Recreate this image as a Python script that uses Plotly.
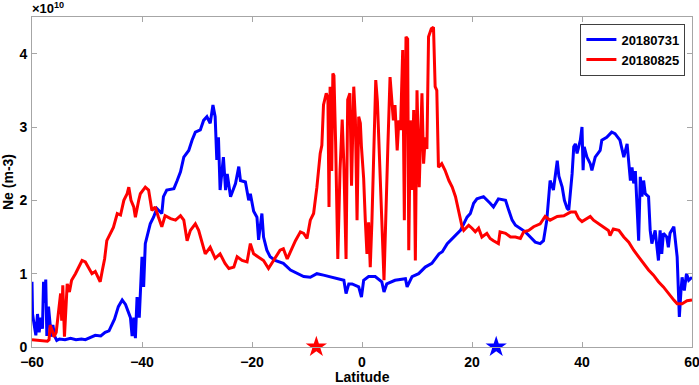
import plotly.graph_objects as go

# Ne in units of 1e10 m-3
lat_0731 = [-60.0, -59.9, -59.6, -59.3, -59.0, -58.7, -58.4, -58.1, -57.9, -57.7, -57.5, -57.3,
            -57.0, -56.8, -56.5, -56.2, -55.9, -55.5, -55.0, -54.0, -53.0, -52.0, -51.0, -50.3,
            -49.5, -48.5, -47.5, -46.7, -46.0, -45.5, -45.0, -44.3, -43.6, -43.0, -42.6, -42.1,
            -41.8, -41.5, -41.2, -40.9, -40.5, -40.0, -39.7, -39.4, -38.8, -38.5, -37.9, -37.3,
            -36.4, -36.1, -35.5, -34.2, -33.6, -33.0, -32.4, -31.5, -30.9, -30.3, -29.4, -28.8,
            -28.2, -27.6, -27.1, -26.7, -26.4, -26.1, -25.8, -25.2, -24.8, -24.5, -23.9, -23.0,
            -22.4, -22.1, -21.2, -20.6, -20.3, -19.7, -19.1, -18.8, -18.2, -17.9, -17.3, -16.7,
            -15.8, -14.3, -13.0, -11.8, -10.6, -9.4, -8.2, -7.0, -5.8, -4.5, -3.3, -2.9, -2.4,
            -1.8, -0.6, -0.1, 0.3, 1.2, 2.4, 3.6, 4.0, 4.5, 6.0, 7.9, 8.2, 9.1, 10.3, 11.5,
            12.7, 14.0, 14.6, 15.5, 16.7, 17.9, 18.5, 19.1, 19.7, 20.3, 20.9, 22.1, 23.3, 23.9,
            24.8, 26.1, 26.7, 27.3, 27.9, 28.8, 29.7, 30.6, 31.5, 32.4, 33.0, 33.6, 33.9, 34.2,
            34.8, 35.5, 35.8, 36.4, 36.8, 37.3, 37.6, 38.2, 38.5, 38.8, 39.1, 39.4, 39.7, 40.0,
            40.2, 40.4, 40.9, 41.5, 41.8, 42.4, 43.3, 43.6, 44.5, 45.4, 46.0, 46.9, 47.6, 48.2,
            48.8, 49.1, 49.4, 49.7, 50.0, 50.3, 50.6, 50.9, 51.2, 51.5, 52.1, 52.4, 52.7, 53.3,
            53.9, 54.2, 54.5, 54.8, 55.4, 55.7, 56.0, 56.7, 57.3, 57.6, 57.7, 58.0, 58.2, 58.6,
            59.0, 59.4, 60.0]
ne_0731 = [0.89, 0.45, 0.30, 0.16, 0.45, 0.20, 0.40, 0.25, 0.89, 0.60, 0.92, 0.15,
           0.55, 0.35, 0.14, 0.30, 0.15, 0.09, 0.11, 0.10, 0.12, 0.10, 0.11, 0.10,
           0.13, 0.16, 0.15, 0.20, 0.22, 0.30, 0.38, 0.55, 0.64, 0.58, 0.50, 0.40,
           0.15, 0.40, 0.12, 0.68, 0.40, 1.23, 0.82, 1.41, 1.59, 1.68, 1.77, 1.89,
           1.82, 2.05, 2.14, 2.16, 2.27, 2.39, 2.59, 2.68, 2.82, 2.93, 2.96, 3.09,
           3.14, 3.05, 3.30, 3.14, 2.55, 2.86, 2.14, 2.59, 2.14, 2.36, 2.05, 2.23,
           2.46, 2.27, 2.25, 2.00, 2.09, 1.85, 1.77, 1.46, 1.82, 1.50, 1.32, 1.23,
           1.18, 1.14, 1.05, 1.00, 0.96, 0.95, 1.00, 0.98, 0.96, 0.93, 0.91, 0.73, 0.86,
           0.86, 0.82, 0.68, 0.91, 0.96, 0.96, 0.89, 0.75, 0.86, 0.91, 0.93, 0.82, 0.96, 1.00, 1.09,
           1.14, 1.27, 1.30, 1.41, 1.50, 1.59, 1.68, 1.77, 1.82, 1.96, 2.02, 2.05, 1.96, 1.91,
           2.02, 2.00, 1.86, 1.73, 1.66, 1.61, 1.57, 1.50, 1.43, 1.41, 1.45, 1.73, 2.00, 2.27,
           2.14, 2.54, 2.33, 2.18, 2.00, 1.89, 1.87, 2.36, 2.73, 2.77, 2.64, 2.73, 2.82, 3.00,
           2.41, 2.73, 2.59, 2.50, 2.41, 2.59, 2.68, 2.82, 2.86, 2.93, 2.91, 2.82, 2.59, 2.77,
           2.27, 2.45, 2.23, 2.40, 1.99, 1.45, 2.32, 2.05, 2.27, 2.09, 2.05, 1.59, 1.41, 1.59,
           1.18, 1.59, 1.27, 1.55, 1.50, 1.36, 1.55, 1.64, 1.23, 0.77, 0.41, 0.77, 0.95, 0.77,
           1.00, 0.91, 0.95]

lat_0825 = [-60.0, -59.0, -58.0, -57.2, -56.9, -56.7, -56.3, -56.0, -55.6, -55.2, -54.8, -54.6,
            -54.4, -54.1, -53.8, -53.6, -53.2, -52.8, -52.1, -51.5, -50.9, -50.3, -49.8, -49.1,
            -48.5, -47.6, -47.2, -46.8, -46.4, -45.8, -45.2, -44.5, -43.9, -43.3, -42.7, -42.4,
            -42.0, -41.5, -41.2, -40.6, -40.3, -39.4, -38.8, -38.2, -37.6, -37.0, -36.4, -35.8,
            -34.8, -33.9, -33.0, -32.4, -31.8, -31.2, -30.3, -29.7, -29.1, -28.5, -27.6, -26.7,
            -25.8, -24.9, -24.2, -23.3, -22.7, -21.8, -20.9, -20.3, -19.7, -18.8, -17.9, -17.0,
            -16.1, -14.9, -14.3, -13.6, -13.0, -12.1, -11.2, -10.6, -10.0, -9.4, -8.8, -8.2,
            -7.6, -7.3, -7.0, -6.5, -6.2, -6.0, -5.8, -5.5, -5.3, -5.1, -4.8, -4.4, -4.0,
            -3.6, -3.3, -2.9, -2.6, -2.2, -1.9, -1.5, -1.2, -0.9, -0.6, -0.3, -0.1, 0.3, 0.6,
            0.9, 1.2, 1.5, 1.8, 2.1, 2.5, 2.8, 3.1, 3.6, 4.0, 4.4, 4.7, 5.1, 5.4, 5.7, 6.0,
            6.4, 6.7, 7.0, 7.2, 7.4, 7.7, 8.0, 8.3, 8.5, 8.8, 9.1, 9.4, 9.7, 10.0, 10.4, 10.9,
            11.2, 11.5, 11.8, 12.1, 12.6, 13.0, 13.3, 13.6, 13.9, 14.5, 15.1, 15.8, 16.4, 17.0,
            17.6, 18.2, 18.5, 19.4, 20.0, 20.6, 21.2, 21.8, 22.7, 23.3, 23.9, 24.8, 25.1, 26.1,
            27.0, 27.9, 28.8, 29.4, 30.3, 31.2, 32.4, 33.3, 34.2, 35.5, 36.7, 37.3, 37.9, 38.8,
            39.4, 40.0, 40.9, 41.5, 42.1, 43.0, 43.9, 44.8, 45.1, 45.7, 46.7, 47.6, 48.5, 49.4,
            50.3, 51.2, 52.1, 53.0, 53.9, 54.8, 55.7, 56.7, 57.3, 58.2, 59.1, 60.0]
ne_0825 = [0.10, 0.09, 0.08, 0.08, 0.10, 0.30, 0.22, 0.14, 0.20, 0.50, 0.73, 0.36,
           0.84, 0.14, 0.60, 0.86, 0.75, 0.91, 1.00, 1.09, 1.18, 1.16, 1.10, 1.00,
           1.03, 0.89, 1.05, 1.20, 1.45, 1.55, 1.63, 1.82, 1.80, 2.00, 2.09, 2.18,
           2.00, 1.91, 1.77, 2.00, 2.09, 2.18, 2.14, 1.86, 1.91, 1.77, 1.64, 1.79,
           1.75, 1.73, 1.79, 1.73, 1.45, 1.59, 1.68, 1.59, 1.41, 1.27, 1.36, 1.21,
           1.27, 1.14, 1.07, 1.09, 1.23, 1.18, 1.16, 1.41, 1.27, 1.23, 1.18, 1.07,
           1.18, 1.32, 1.34, 1.20, 1.30, 1.45, 1.57, 1.55, 1.48, 1.73, 1.82, 2.18,
           2.64, 2.75, 3.30, 3.46, 3.40, 1.91, 3.55, 2.40, 3.73, 3.70, 2.80, 1.20, 2.40,
           3.10, 2.50, 1.20, 3.37, 3.46, 2.20, 3.55, 3.10, 1.73, 3.14, 3.05, 2.73, 2.30, 1.73,
           1.27, 1.70, 1.09, 1.70, 2.64, 3.64, 3.35, 2.64, 1.73, 0.91, 2.18, 2.73, 3.68, 3.32, 3.09, 3.30,
           2.68, 3.09, 2.96, 3.50, 4.05, 1.73, 4.23, 4.20, 1.32, 3.09, 2.14, 3.23, 1.18, 3.50, 2.18, 3.46,
           2.50, 2.86, 2.70, 4.23, 4.34, 4.36, 3.55, 3.50, 2.45, 2.50, 2.41, 2.27, 2.18, 2.05,
           1.82, 1.64, 1.59, 1.66, 1.62, 1.57, 1.62, 1.50, 1.55, 1.48, 1.45, 1.41, 1.57, 1.55,
           1.50, 1.50, 1.48, 1.57, 1.59, 1.64, 1.68, 1.78, 1.73, 1.78, 1.79, 1.82, 1.84, 1.84,
           1.75, 1.71, 1.75, 1.78, 1.73, 1.68, 1.64, 1.59, 1.52, 1.61, 1.59, 1.50, 1.43, 1.32,
           1.23, 1.14, 1.05, 0.98, 0.89, 0.82, 0.73, 0.64, 0.59, 0.59, 0.63, 0.64]

star_lat = [-8.3, 24.4]
star_colors = ["#ff0000", "#0000ff"]

x_ticks = [-60, -40, -20, 0, 20, 40, 60]
y_ticks = [0, 1, 2, 3, 4]

FONT = "Liberation Sans, Arial, Helvetica, sans-serif"
AXIS_GRAY = "#a6a6a6"
BOLD14 = dict(family=FONT, size=14, color="black", weight="bold")

fig = go.Figure()

fig.add_trace(go.Scatter(
    x=lat_0731, y=ne_0731, mode="lines", name="20180731",
    line=dict(color="#0000ff", width=3),
))
fig.add_trace(go.Scatter(
    x=lat_0825, y=ne_0825, mode="lines", name="20180825",
    line=dict(color="#ff0000", width=3),
))
fig.add_trace(go.Scatter(
    x=star_lat, y=[0, 0], mode="markers", showlegend=False, cliponaxis=False,
    marker=dict(symbol="star", size=16, color=star_colors, line=dict(width=0)),
))

axis_common = dict(
    showline=True, linecolor=AXIS_GRAY, linewidth=1, mirror="ticks",
    ticks="inside", ticklen=5, tickcolor=AXIS_GRAY,
    showgrid=False, zeroline=False, automargin=False,
    ticklabeloverflow="allow", tickfont=BOLD14,
)

fig.update_layout(
    width=699, height=385,
    margin=dict(l=32, r=7, t=17, b=38),
    plot_bgcolor="white", paper_bgcolor="white",
    xaxis=dict(range=[-60, 60], tickvals=x_ticks, ticklabelstandoff=2, **axis_common),
    yaxis=dict(range=[0, 4.5], tickvals=y_ticks, ticklabelstandoff=1, **axis_common),
    legend=dict(x=0.99, y=0.98, xanchor="right", yanchor="top",
                bgcolor="white", bordercolor="#404040", borderwidth=1,
                font=dict(family=FONT, size=13, color="black", weight="bold"),
                tracegroupgap=0, itemwidth=30),
    annotations=[
        dict(text="<b>×10<sup>10</sup></b>", xref="paper", yref="paper",
             x=0, y=1, xanchor="left", yanchor="top", yshift=19, xshift=-2, showarrow=False,
             font=dict(family=FONT, size=13, color="black")),
        dict(text="Latitude", xref="paper", yref="paper", x=0.5, y=0,
             xanchor="center", yanchor="top", yshift=-20, showarrow=False, font=BOLD14),
        dict(text="Ne (m-3)", xref="paper", yref="paper", x=0, y=0.5, textangle=-90,
             xanchor="right", yanchor="middle", xshift=-14, showarrow=False, font=BOLD14),
    ],
)

# drop the browser's default 8px body margin so the figure sits at the page origin
fig.write_html("out.html", config={"displayModeBar": False},
               post_script="document.body.style.margin='0';")
